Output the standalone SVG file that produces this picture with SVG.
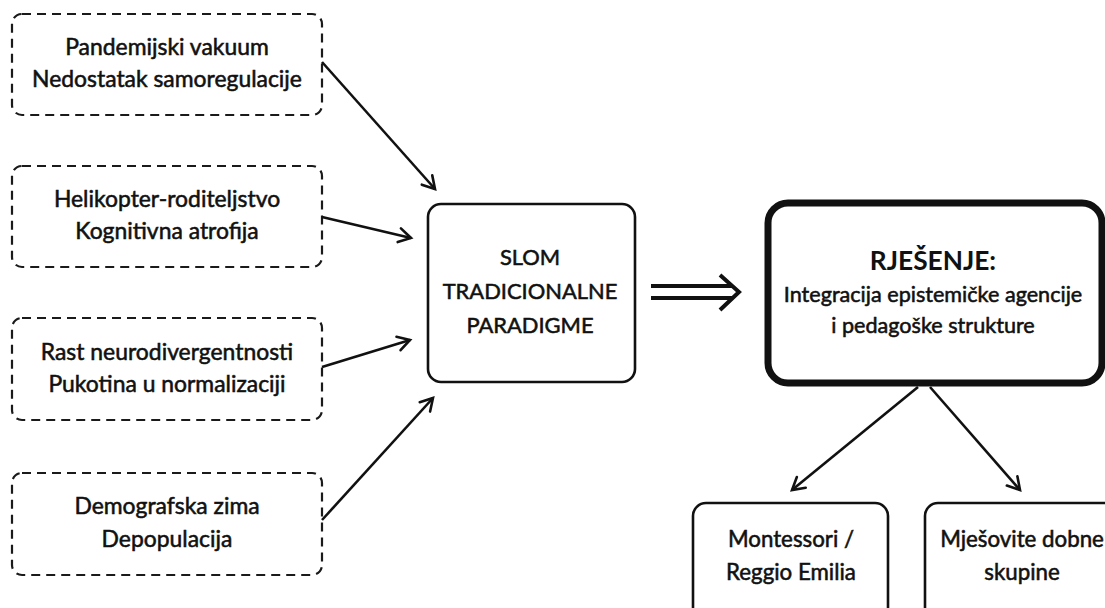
<svg xmlns="http://www.w3.org/2000/svg" width="1105" height="608" viewBox="0 0 1105 608">
  <defs>
    <marker id="chev" markerUnits="userSpaceOnUse" markerWidth="20" markerHeight="20" viewBox="-2 -2 20 20" refX="13" refY="7" orient="auto">
      <path d="M1,0 L13,7 L1,14" fill="none" stroke="#111" stroke-width="2.6" stroke-linecap="round" stroke-linejoin="miter"/>
    </marker>
  </defs>
  <style>
    text { font-family: Lato, "Open Sans", "Liberation Sans", sans-serif; font-weight: 400; fill: #111; stroke: #111; stroke-width: 0.55; text-anchor: middle; }
    .cause { fill: #fff; stroke: #1a1a1a; stroke-width: 2.2; stroke-dasharray: 9 6; }
    .tc { font-size: 22.9px; }
    .tm { font-size: 21.9px; }
    .tl { font-size: 22.3px; }
    .ts { font-size: 21.6px; }
    .title { font-size: 26.3px; font-weight: 700; stroke-width: 0; }
    .core { fill: #fff; stroke: #111; stroke-width: 2.6; }
    .sol { fill: #fff; stroke: #111; stroke-width: 7; }
    .leaf { fill: #fff; stroke: #111; stroke-width: 2.6; }
    .link { fill: none; stroke: #111; stroke-width: 2.6; marker-end: url(#chev); }
  </style>
  <rect width="1105" height="608" fill="#fff"/>

  <g id="cause-pandemija">
    <rect class="cause" x="12" y="14" width="310" height="101" rx="10"/>
    <text class="tc" x="167" y="55">Pandemijski vakuum</text>
    <text class="tc" x="167" y="87">Nedostatak samoregulacije</text>
  </g>
  <g id="cause-helikopter">
    <rect class="cause" x="12" y="166" width="310" height="101" rx="10"/>
    <text class="tc" x="167" y="207">Helikopter-roditeljstvo</text>
    <text class="tc" x="167" y="239">Kognitivna atrofija</text>
  </g>
  <g id="cause-neuro">
    <rect class="cause" x="12" y="318" width="310" height="102" rx="10"/>
    <text class="tc" x="167" y="360">Rast neurodivergentnosti</text>
    <text class="tc" x="167" y="392">Pukotina u normalizaciji</text>
  </g>
  <g id="cause-demografija">
    <rect class="cause" x="12" y="473" width="310" height="102" rx="10"/>
    <text class="tc" x="167" y="514">Demografska zima</text>
    <text class="tc" x="167" y="547">Depopulacija</text>
  </g>

  <g id="slom">
    <rect class="core" x="428" y="204" width="207" height="178" rx="13"/>
    <text class="tm" x="530" y="265">SLOM</text>
    <text class="tm" x="530" y="299">TRADICIONALNE</text>
    <text class="tm" x="530" y="333">PARADIGME</text>
  </g>

  <g id="rjesenje">
    <rect class="sol" x="768" y="203" width="334" height="180" rx="20"/>
    <text class="title" x="933" y="270">RJEŠENJE:</text>
    <text class="ts" x="933" y="302">Integracija epistemičke agencije</text>
    <text class="ts" x="933" y="333">i pedagoške strukture</text>
  </g>

  <g id="montessori">
    <rect class="leaf" x="693" y="503" width="195" height="130" rx="13"/>
    <text class="tl" x="791" y="547">Montessori /</text>
    <text class="tl" x="791" y="580">Reggio Emilia</text>
  </g>
  <g id="mjesovite">
    <rect class="leaf" x="925" y="503" width="200" height="130" rx="13"/>
    <text class="tl" x="1022" y="547">Mješovite dobne</text>
    <text class="tl" x="1022" y="580">skupine</text>
  </g>

  <g id="connectors">
    <line class="link" x1="322" y1="62" x2="435" y2="189"/>
    <line class="link" x1="322" y1="217" x2="411" y2="238"/>
    <line class="link" x1="322" y1="367" x2="410" y2="340"/>
    <line class="link" x1="322" y1="520" x2="433" y2="398"/>
    <!-- implication arrow between the two central boxes -->
    <g fill="none" stroke="#111" stroke-width="4">
      <line x1="651" y1="286" x2="733" y2="286"/>
      <line x1="651" y1="298" x2="733" y2="298"/>
      <path d="M720,275 L739,292 L720,310" stroke-linejoin="miter"/>
    </g>
    <line class="link" x1="918" y1="387" x2="792" y2="490"/>
    <line class="link" x1="930" y1="387" x2="1020" y2="490"/>
  </g>
</svg>
